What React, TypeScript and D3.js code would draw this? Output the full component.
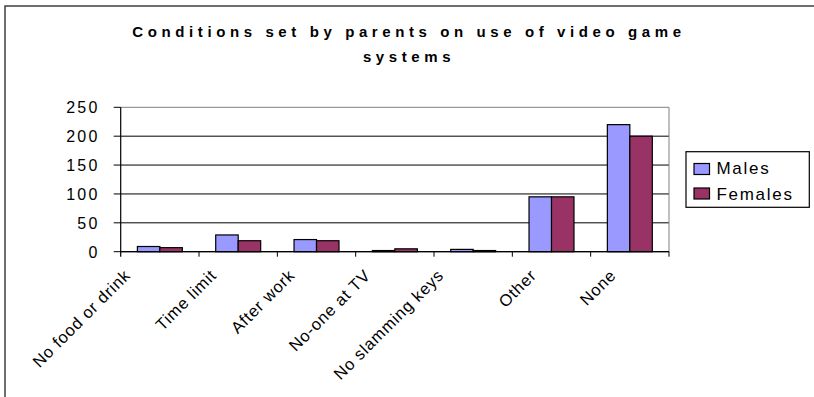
import React from "react";
import * as d3 from "d3";

const categories = [
  "No food or drink",
  "Time limit",
  "After work",
  "No-one at TV",
  "No slamming keys",
  "Other",
  "None",
];
const males = [9, 29, 21, 2, 4, 95, 220];
const females = [7, 19, 19, 5, 2, 95, 200];
const seriesNames = ["Males", "Females"];
const seriesColors = ["#9999FF", "#993366"];
const yTicks = [0, 50, 100, 150, 200, 250];
const titleLines = ["Conditions set by parents on use of video game", "systems"];

export default function App() {
  const W = 814;
  const H = 397;
  const plot = { left: 120.7, right: 669, top: 107.3, bottom: 251.7 };
  const x = d3
    .scaleBand<string>()
    .domain(categories)
    .range([plot.left, plot.right])
    .paddingInner(0)
    .paddingOuter(0);
  const y = d3.scaleLinear().domain([0, 250]).range([plot.bottom, plot.top]);
  const step = x.step();
  const bw = step * 0.287;
  const series = [males, females];
  const font = "Arial, 'Liberation Sans', sans-serif";

  return (
    <svg
      width={W}
      height={H}
      style={{ position: "absolute", left: 0, top: 0, background: "#fff" }}
      fontFamily={font}
    >
      <rect x={0} y={0} width={W} height={H} fill="#fff" />
      <rect x={5} y={6} width={W + 50} height={H + 50} fill="none" stroke="#333" strokeWidth={1.4} />
      {titleLines.map((t, i) => (
        <text
          key={i}
          x={409}
          y={37 + i * 25}
          textAnchor="middle"
          fontSize={15}
          fontWeight="bold"
          letterSpacing={4.6}
          fill="#000"
        >
          {t}
        </text>
      ))}
      {yTicks.map((v) => (
        <g key={v}>
          <line
            x1={plot.left}
            x2={plot.right}
            y1={y(v)}
            y2={y(v)}
            stroke={v === 250 ? "#808080" : "#000"}
            strokeWidth={1}
          />
          <line x1={plot.left - 7} x2={plot.left} y1={y(v)} y2={y(v)} stroke="#000" strokeWidth={1} />
          <text x={99.5} y={y(v) + 5.8} textAnchor="end" fontSize={16} letterSpacing={2.2} fill="#000">
            {v}
          </text>
        </g>
      ))}
      <line x1={plot.right} x2={plot.right} y1={plot.top} y2={plot.bottom} stroke="#808080" strokeWidth={1} />
      {categories.map((c, i) => {
        const cx = (x(c) as number) + step / 2;
        return (
          <g key={c}>
            {series.map((s, j) => (
              <rect
                key={j}
                x={cx - bw + j * bw}
                y={y(s[i])}
                width={bw}
                height={plot.bottom - y(s[i])}
                fill={seriesColors[j]}
                stroke="#000"
                strokeWidth={1.2}
              />
            ))}
          </g>
        );
      })}
      <line x1={plot.left} x2={plot.left} y1={plot.top} y2={plot.bottom + 5} stroke="#000" strokeWidth={1.2} />
      <line x1={plot.left} x2={plot.right} y1={plot.bottom} y2={plot.bottom} stroke="#000" strokeWidth={1.2} />
      {categories.map((c, i) => (
        <line
          key={"t" + i}
          x1={(x(c) as number) + step}
          x2={(x(c) as number) + step}
          y1={plot.bottom}
          y2={plot.bottom + 5}
          stroke="#000"
          strokeWidth={1}
        />
      ))}
      {categories.map((c) => {
        const cx = (x(c) as number) + step / 2;
        const off = -14 - 1.3 * c.length;
        const bx = cx + off + 6.4;
        const by = 270 + 6.4;
        return (
          <text
            key={"l" + c}
            x={bx}
            y={by}
            textAnchor="end"
            fontSize={16.5}
            letterSpacing={0.8}
            transform={`rotate(-45 ${bx} ${by})`}
            fill="#000"
          >
            {c}
          </text>
        );
      })}
      <rect x={686} y={151.7} width={123.3} height={55.6} fill="#fff" stroke="#000" strokeWidth={1.2} />
      {seriesNames.map((n, i) => (
        <g key={n}>
          <rect
            x={694}
            y={163.5 + i * 24.5}
            width={15.5}
            height={11}
            fill={seriesColors[i]}
            stroke="#000"
            strokeWidth={1.2}
          />
          <text x={716.5} y={173.5 + i * 26.5} fontSize={17} letterSpacing={1.7} fill="#000">
            {n}
          </text>
        </g>
      ))}
    </svg>
  );
}
